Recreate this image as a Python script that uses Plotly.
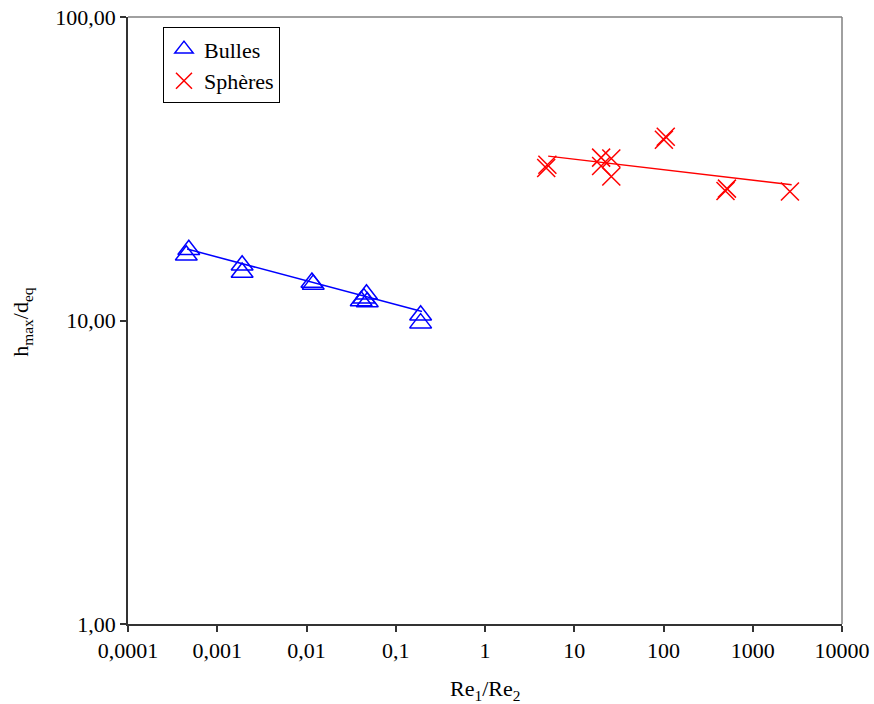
import plotly.graph_objects as go

# Data
bulles_x = [0.00048, 0.00045, 0.0019, 0.0019, 0.0115, 0.0119, 0.047, 0.044, 0.041, 0.048, 0.19, 0.19]
bulles_y = [17.1, 16.4, 15.2, 14.4, 13.35, 13.15, 12.2, 11.85, 11.6, 11.5, 10.4, 9.8]

spheres_x = [5.0, 4.85, 20, 26, 26, 20, 106, 101, 514, 495, 2610]
spheres_y = [32.6, 31.8, 34.4, 34.2, 29.8, 32.3, 40.3, 39.4, 27.2, 26.7, 26.6]

# Trend lines (end points)
bulles_fit_x = [0.00046, 0.197]
bulles_fit_y = [17.2, 10.7]
spheres_fit_x = [5.1, 2730]
spheres_fit_y = [34.8, 28.0]

x_tickvals = [0.0001, 0.001, 0.01, 0.1, 1, 10, 100, 1000, 10000]
x_ticktext = ["0,0001", "0,001", "0,01", "0,1", "1", "10", "100", "1000", "10000"]
y_tickvals = [1, 10, 100]
y_ticktext = ["1,00", "10,00", "100,00"]

x_title = "Re<sub>1</sub>/Re<sub>2</sub>"
y_title = "h<sub>max</sub>/d<sub>eq</sub>"

FONT = "'Liberation Serif', 'Times New Roman', serif"
BLUE = "#0000FF"
RED = "#FF0000"

fig = go.Figure()

fig.add_trace(go.Scatter(x=bulles_fit_x, y=bulles_fit_y, mode="lines",
                         line=dict(color=BLUE, width=1.5), showlegend=False,
                         hoverinfo="skip"))
fig.add_trace(go.Scatter(x=spheres_fit_x, y=spheres_fit_y, mode="lines",
                         line=dict(color=RED, width=1.5), showlegend=False,
                         hoverinfo="skip"))

fig.add_trace(go.Scatter(x=bulles_x, y=bulles_y, mode="markers", name="Bulles",
                         marker=dict(symbol="triangle-up-open", size=19,
                                     color=BLUE, line=dict(color=BLUE, width=1.5))))
fig.add_trace(go.Scatter(x=spheres_x, y=spheres_y, mode="markers", name="Sphères",
                         marker=dict(symbol="x-thin-open", size=18,
                                     color=RED, line=dict(color=RED, width=1.5))))

fig.update_layout(
    width=874, height=704,
    margin=dict(l=128, r=32, t=17, b=80, autoexpand=False),
    paper_bgcolor="white", plot_bgcolor="white",
    font=dict(family=FONT, size=22, color="black"),
    legend=dict(x=0.049, y=0.983, xanchor="left", yanchor="top",
                bordercolor="black", borderwidth=1, bgcolor="white",
                itemwidth=30, tracegroupgap=0,
                font=dict(family=FONT, size=22, color="black")),
    shapes=[
        dict(type="line", xref="paper", yref="paper", x0=0, x1=1, y0=1, y1=1,
             line=dict(color="#808080", width=1.5)),
        dict(type="line", xref="paper", yref="paper", x0=1, x1=1, y0=0, y1=1,
             line=dict(color="#808080", width=1.5)),
    ],
    annotations=[
        dict(text=y_title, xref="paper", yref="paper", x=-0.1485, y=0.498,
             xanchor="center", yanchor="middle", textangle=-90, showarrow=False,
             font=dict(family=FONT, size=22, color="black")),
        dict(text=x_title, xref="paper", yref="paper", x=0.5, y=-0.1088,
             xanchor="center", yanchor="middle", showarrow=False,
             font=dict(family=FONT, size=22, color="black")),
    ],
)

fig.update_xaxes(type="log", range=[-4, 4], tickvals=x_tickvals, ticktext=x_ticktext,
                 automargin=False, ticklabeloverflow="allow",
                 ticks="outside", ticklen=6, tickcolor="#333333", tickwidth=1.5,
                 showline=True, linecolor="#333333", linewidth=1.5,
                 showgrid=False, zeroline=False)
fig.update_yaxes(type="log", range=[0, 2], tickvals=y_tickvals, ticktext=y_ticktext,
                 automargin=False, ticklabeloverflow="allow",
                 ticks="outside", ticklen=6, tickcolor="#333333", tickwidth=1.5,
                 showline=True, linecolor="#333333", linewidth=1.5,
                 showgrid=False, zeroline=False)

# remove the browser's default 8px body margin so the figure fills the window
fig.write_html("out.html", config={"displayModeBar": False},
               post_script="document.body.style.margin='0';")
